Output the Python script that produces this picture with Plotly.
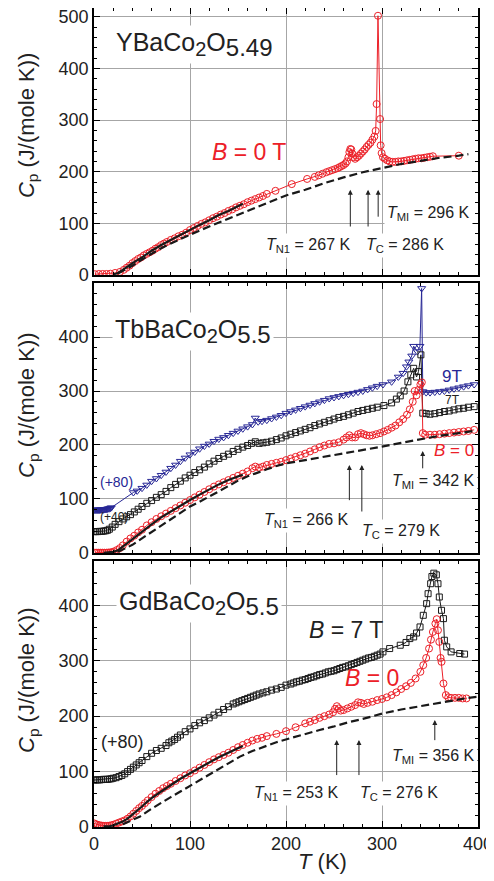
import plotly.graph_objects as go

# ---------------- Panel 1: YBaCo2O5.49 ----------------
p1_T_b0 = [1, 5, 9, 13, 17, 22, 27, 31, 34, 37, 40, 43, 46, 49, 52, 55, 58, 61, 64, 67, 70, 73, 76, 80, 84, 88, 92, 96, 100,
           104, 108, 112, 116, 120, 124, 128, 132, 136, 140, 144, 148, 152, 156, 160, 164, 168, 172, 176, 180, 189,
           206, 222, 230, 234, 238, 242, 245, 248, 251, 254, 256, 258, 260, 262, 263.5, 265, 266, 267, 268, 269, 270,
           272, 274, 276, 278, 280, 282, 284, 286, 288, 290, 292, 293.4, 294.4, 295.8, 298, 298.6, 299.6, 301, 303,
           305.5, 308, 311, 314, 317, 320, 323, 326, 329, 332, 335, 338, 341, 344, 347, 350, 353, 380]
p1_Cp_b0 = [1.5, 2, 2, 2, 2.5, 4, 6, 10, 14, 18, 23, 27, 31, 34, 38, 41, 44, 47, 51, 54, 58, 61, 64, 68, 71, 75, 78, 82, 87,
            91, 95, 99, 102, 106, 110, 113, 117, 120, 124, 127, 131, 134, 137, 141, 144, 147, 150, 153, 157, 163,
            176, 186, 190, 193, 196, 199, 201, 203, 205, 207, 209, 211, 213, 216, 220, 228, 238, 244, 243, 235, 228,
            225, 228, 231, 235, 239, 243, 248, 252, 256, 262, 268, 279, 331, 502, 302, 251, 236, 228, 225,
            222, 220, 219, 219, 220, 220, 221, 222, 223, 224, 225, 226, 226, 227, 228, 229, 230, 231]
p1_T_fit = [20, 25, 30, 40, 50, 60, 70, 80, 90, 100, 110, 120, 130, 140, 150, 155]
p1_Cp_fit = [1, 4, 10, 23, 34, 47, 58, 68, 78, 87, 97, 106, 116, 124, 133, 138]
p1_T_lat = [25, 30, 40, 50, 60, 70, 80, 90, 100, 120, 140, 160, 180, 200, 220, 240, 260, 280, 300, 320, 340, 360, 380, 390]
p1_Cp_lat = [3, 8, 18, 30, 41, 52, 61, 70, 78, 94, 109, 125, 140, 154, 165, 178, 189, 199, 207, 215, 221, 227, 231, 234]

# ---------------- Panel 2: TbBaCo2O5.5 ----------------
p2_T_b0 = [1, 3, 5, 7, 9, 11, 13, 15, 17, 19, 21, 24, 27, 30, 34, 38, 42, 46, 50, 55, 60, 65, 70, 75, 80, 85, 90, 95, 100,
           105, 110, 115, 120, 125, 130, 135, 140, 145, 150, 155, 160, 165, 168, 172, 176, 180, 185, 190, 195, 200,
           205, 210, 215, 220, 225, 230, 235, 240, 245, 250, 255, 260, 263, 266, 269, 272, 275, 278, 281, 284, 287,
           290, 294, 298, 302, 306, 310, 314, 318, 322, 326, 329, 332, 334, 336, 338, 340, 341.5, 342.5, 345, 350,
           355, 360, 365, 370, 375, 380, 385, 390, 396]
p2_Cp_b0 = [0.5, 0.5, 0.5, 0.5, 0.5, 0.5, 0.5, 0.8, 1, 1.5, 3, 5.5, 9, 14, 21, 27, 32, 38, 43, 51, 57, 63, 68, 73, 78, 83,
            88, 93, 98, 103, 108, 113, 118, 123, 127, 131, 135, 139, 143, 147, 151, 157, 160, 158, 160, 163, 165, 167,
            169, 172, 175, 178, 181, 184, 188, 192, 196, 199, 202, 203, 205, 210, 214, 218, 214, 214, 220, 222, 220,
            218, 217, 218, 220, 222, 225, 228, 232, 236, 242, 248, 256, 266, 280, 300, 292, 302, 312, 316, 222, 219,
            219, 219, 220, 221, 222, 223, 224, 225, 226, 228]
p2_T_7T = [0, 2, 4, 6, 8, 10, 12, 14, 16, 19, 22, 26, 30, 34, 38, 42, 46, 50, 55, 60, 65, 70, 75, 80, 85, 90, 95, 100,
           105, 110, 115, 120, 125, 130, 135, 140, 145, 150, 155, 160, 164, 168, 172, 176, 180, 185, 190, 195, 200, 205,
           210, 215, 220, 225, 230, 235, 240, 245, 250, 255, 260, 265, 270, 275, 280, 285, 290, 295, 302, 310, 315, 319,
           323, 327, 330, 333, 336, 338, 340.5, 342.5, 346, 350, 355, 360, 365, 370, 375, 380, 385, 390, 396]
p2_Cp_7T = [39.5, 39.5, 39.5, 40, 40, 40.5, 41, 42, 44, 48, 53, 58, 63, 67, 71, 76, 81, 86, 92, 97, 103, 108, 114, 121,
            127, 133, 139, 144, 149, 154, 159, 165, 170, 175, 179, 183, 188, 192, 196, 199, 203, 206, 203, 204, 205, 207,
            210, 213, 217, 220, 223, 226, 229, 232, 236, 239, 242, 245, 248, 251, 253, 256, 259, 262, 264, 266, 268,
            270, 273, 278, 285, 291, 300, 317, 330, 342, 326, 336, 367, 259, 258, 257, 258, 260, 262, 263, 265, 267,
            268, 270, 271]
p2_T_9T = [0, 1, 2, 3, 4, 5, 6, 7, 8, 9, 10, 11, 12, 13, 14, 15, 16, 17, 18, 41, 45, 50, 55, 60, 65, 70, 75, 80, 85, 90,
           95, 100, 105, 110, 115, 120, 125, 130, 135, 140, 145, 150, 155, 160, 165, 168, 171, 175, 180, 185, 190, 195,
           200, 205, 210, 215, 220, 225, 230, 235, 240, 245, 250, 255, 260, 265, 270, 275, 280, 285, 290, 295, 301,
           310, 317, 322, 325.5, 328, 331, 333, 336.8, 339.5, 341.3, 342.5, 346, 350, 355, 360, 365, 370, 375, 380,
           385, 390, 396]
p2_Cp_9T = [79.6, 79.6, 79.6, 79.6, 79.6, 79.6, 79.6, 80, 80, 80, 80, 80.5, 81, 81, 81.5, 82, 82, 83, 84, 112, 115, 120,
            126, 133, 138, 144, 150, 157, 163, 170, 176, 182, 187, 193, 198, 202, 207, 211, 214, 218, 222, 226, 230,
            234, 238, 250, 243, 244, 246, 249, 252, 255, 259, 262, 265, 268, 271, 274, 277, 280, 283, 286, 288, 290,
            292, 294, 296, 298, 300, 303, 306, 309, 312, 317, 326, 333, 345, 354, 365, 383, 373, 383, 490, 299, 297,
            297, 298, 299, 300, 302, 304, 306, 308, 310, 312]
p2_T_fit = [10, 20, 25, 30, 35, 40, 50, 60, 70, 80, 90, 100, 110, 120, 130, 140, 150, 155]
p2_Cp_fit = [0, 2, 5, 12, 19, 26, 40, 53, 66, 77, 88, 98, 108, 118, 127, 135, 142, 145]
p2_T_lat = [25, 30, 40, 50, 60, 70, 80, 90, 100, 110, 120, 130, 140, 150, 160, 170, 180, 190, 200, 220, 240, 260, 280,
            300, 320, 340, 360, 380, 396]
p2_Cp_lat = [2, 6, 15, 27, 39, 51, 63, 75, 86, 95, 104, 114, 124, 134, 142, 149, 155, 161, 166, 172, 178, 184, 190,
             197, 204, 211, 217, 222, 226]

# ---------------- Panel 3: GdBaCo2O5.5 ----------------
p3_T_b0 = [0, 2, 4, 6, 8, 10, 12, 14, 16, 18, 20, 23, 26, 29, 32, 35, 38, 41, 44, 47, 50, 53, 56, 60, 64, 68, 72, 76, 80,
           85, 90, 95, 100, 105, 110, 115, 120, 125, 130, 135, 140, 145, 150, 155, 160, 165, 170, 175, 180, 190, 200,
           210, 220, 225, 230, 235, 240, 245, 249, 251, 253, 255, 257, 260, 264, 268, 272, 275, 278, 281, 285, 290,
           295, 300, 305, 310, 315, 320, 325, 330, 335, 340, 343, 346, 349, 351, 353, 355.6, 357, 358.3, 359.7, 361,
           362, 364, 366.5, 369, 372, 376, 380, 384, 388]
p3_Cp_b0 = [6.6, 5, 4, 3, 2.5, 2, 2, 2, 2.4, 3, 4, 6, 8, 10, 12, 15, 19, 24, 29, 34, 38, 43, 48, 54, 60, 65, 70, 74, 78,
            83, 88, 93, 97, 102, 107, 112, 117, 122, 126, 130, 134, 139, 144, 148, 152, 156, 159, 161, 164, 168, 173,
            180, 187, 190, 193, 197, 200, 203, 207, 213, 218, 214, 210, 211, 214, 217, 220, 225, 224, 222, 224, 226,
            229, 231, 234, 238, 243, 249, 254, 260, 268, 280, 292, 305, 322, 338, 352, 367, 375, 355, 334, 305, 298,
            259, 238, 234, 233, 233, 233, 232, 232]
p3_T_7T = [0, 2, 4, 6, 8, 10, 12, 14, 16, 18, 20, 23, 26, 29, 32, 35, 38, 41, 44, 47, 50, 55, 60, 65, 70, 75, 78, 81, 84,
           87, 90, 95, 100, 105, 110, 115, 120, 125, 130, 135, 140, 145, 148, 151, 154, 157, 160, 163, 166, 169, 172,
           176, 180, 185, 190, 195, 200, 205, 208, 211, 214, 217, 220, 223, 226, 229, 232, 235, 238, 241, 244, 247,
           250, 253, 256, 259, 262, 265, 268, 271, 274, 277, 280, 283, 286, 289, 292, 295, 298, 301, 308, 319, 325,
           329, 333, 336, 339.6, 343, 346.5, 348, 350.7, 352, 354, 356.6, 358.3, 359.7, 362, 364, 365, 367.4, 372,
           381, 386]
p3_Cp_7T = [84.7, 85, 85, 85, 85.5, 86, 86, 86, 86.5, 87, 88, 89, 91, 93, 96, 100, 104, 108, 112, 116, 120, 127, 133,
            138, 142, 147, 152, 155, 158, 162, 166, 172, 177, 183, 188, 192, 197, 202, 207, 212, 217, 222, 224, 226,
            228, 230, 232, 234, 236, 238, 240, 242, 244, 247, 249, 252, 256, 258, 260, 262, 263, 265, 266, 268, 270,
            271, 273, 275, 276, 278, 280, 281, 282, 284, 286, 288, 289, 291, 293, 295, 297, 299, 301, 303, 305, 306,
            308, 310, 312, 316, 322, 328, 333, 340, 343, 350, 361, 382, 403, 421, 439, 452, 458, 455, 439, 415, 391,
            376, 337, 325, 316, 313, 312]
p3_T_fit = [10, 15, 20, 25, 30, 35, 40, 45, 50, 55, 60, 70, 80, 90, 100, 110, 120, 130, 140, 150, 155]
p3_Cp_fit = [1, 1, 3, 6, 10, 15, 22, 29, 37, 45, 52, 64, 76, 87, 97, 107, 117, 126, 134, 142, 146]
p3_T_lat = [30, 40, 48, 60, 70, 80, 90, 99, 110, 120, 130, 140, 152, 165, 180, 190, 204, 220, 235, 249, 265, 280, 301,
            320, 340, 353, 370, 390, 400]
p3_Cp_lat = [5, 12, 19, 33, 44, 54, 64, 73, 84, 94, 104, 114, 127, 137, 147, 153, 160, 168, 175, 181, 189, 195, 205,
             212, 218, 223, 228, 233, 235]

RED = "rgb(236,32,40)"
BLUE = "rgb(40,40,150)"
BLK = "rgb(25,25,25)"
FONT = "Liberation Sans, Arial, sans-serif"

fig = go.Figure()


def data(x, y, color, symbol, size, ax, name):
    fig.add_trace(go.Scatter(x=x, y=y, mode="lines+markers", name=name,
                             line=dict(color=color, width=1),
                             marker=dict(symbol=symbol, size=size, color=color,
                                         line=dict(color=color, width=1)),
                             xaxis="x" + ax, yaxis="y" + ax, showlegend=False))


def fitline(x, y, ax, dash):
    fig.add_trace(go.Scatter(x=x, y=y, mode="lines",
                             line=dict(color=BLK, width=2.2, dash=dash),
                             xaxis="x" + ax, yaxis="y" + ax, showlegend=False))


# panel 1
data(p1_T_b0, p1_Cp_b0, RED, "circle-open", 7, "", "B=0")
fitline(p1_T_fit, p1_Cp_fit, "", "solid")
fitline(p1_T_lat, p1_Cp_lat, "", "8px,4px")
# panel 2
data(p2_T_9T, p2_Cp_9T, BLUE, "triangle-down-open", 7, "2", "9T")
data(p2_T_7T, p2_Cp_7T, BLK, "square-open", 6, "2", "7T")
data(p2_T_b0, p2_Cp_b0, RED, "circle-open", 7, "2", "B=0")
fitline(p2_T_fit, p2_Cp_fit, "2", "solid")
fitline(p2_T_lat, p2_Cp_lat, "2", "8px,4px")
# panel 3
data(p3_T_7T, p3_Cp_7T, BLK, "square-open", 6, "3", "7T")
data(p3_T_b0, p3_Cp_b0, RED, "circle-open", 7, "3", "B=0")
fitline(p3_T_fit, p3_Cp_fit, "3", "solid")
fitline(p3_T_lat, p3_Cp_lat, "3", "8px,4px")

axis_common = dict(showline=True, linecolor="black", linewidth=1.5, mirror="allticks",
                   ticks="inside", ticklen=6, tickwidth=1, tickcolor="black", automargin=False,
                   ticklabeloverflow="allow",
                   showgrid=True, gridcolor="#a6a6a6", gridwidth=1, zeroline=False,
                   tickfont=dict(family=FONT, size=18, color="#222"),
                   minor=dict(dtick=20, tick0=0, ticks="inside", ticklen=3, tickcolor="black", showgrid=False))

xcommon = dict(axis_common, range=[0, 400], dtick=100, tick0=0)
# the page body adds an 8px offset, so the figure is sized to fit the 494x881 window
fig.update_layout(
    width=486, height=873,
    margin=dict(l=86, r=16, t=0, b=54, autoexpand=False),
    paper_bgcolor="white", plot_bgcolor="white",
    font=dict(family=FONT, color="#222"),
    xaxis=dict(xcommon, anchor="y", showticklabels=False),
    xaxis2=dict(xcommon, anchor="y2", showticklabels=False),
    xaxis3=dict(xcommon, anchor="y3", showticklabels=True),
    yaxis=dict(axis_common, domain=[0.674, 1.0], range=[0, 517], tickvals=[0, 100, 200, 300, 400, 500], anchor="x"),
    yaxis2=dict(axis_common, domain=[0.3346, 0.6642], range=[0, 500], tickvals=[0, 100, 200, 300, 400], anchor="x2"),
    yaxis3=dict(axis_common, domain=[0.0, 0.3248], range=[0, 480], tickvals=[0, 100, 200, 300, 400], anchor="x3"),
)

ann = []


def label(text, x, y, ax, size, color="#222", xanchor="left", bg=None):
    d = dict(text=text, x=x, y=y, xref="x" + ax, yref="y" + ax, showarrow=False,
             xanchor=xanchor, yanchor="middle", font=dict(family=FONT, size=size, color=color))
    if bg:
        d.update(bgcolor=bg, borderpad=2)
    ann.append(d)


def arrow(x, y0, y1, ax):
    ann.append(dict(text="", x=x, y=y1, ax=x, ay=y0, xref="x" + ax, yref="y" + ax,
                    axref="x" + ax, ayref="y" + ax, showarrow=True, arrowhead=2,
                    arrowsize=1, arrowwidth=1, arrowcolor="#222"))


def Tlab(sub, val):
    return "<i>T</i><sub>%s</sub> = %s K" % (sub, val)


def formula(a, b):
    return (a + "<sub><span style='font-size:20px'>2</span></sub>O<sub><span style='font-size:24px'>"
            + b + "</span></sub>")


# panel 1 texts
label(formula("YBaCo", "5.49"), 20, 446, "", 25, bg="white")
label("<i>B</i> = 0 T", 161.5, 238, "", 23, color=RED, xanchor="center")
label(Tlab("MI", "296"), 395, 120, "", 16, xanchor="right", bg="white")
label(Tlab("N1", "267"), 176, 58, "", 16, bg="white")
label(Tlab("C", "286"), 280, 58, "", 16, bg="white")
arrow(267, 91, 165, "")
arrow(285.5, 91, 165, "")
arrow(296, 110, 165, "")

# panel 2 texts
label(formula("TbBaCo", "5.5"), 19, 411, "2", 25, bg="white")
label("9T", 373, 326, "2", 17, color=BLUE, xanchor="center")
label("7T", 373, 283, "2", 12, color="#222", xanchor="center")
label("<i>B</i> = 0", 375, 189, "2", 17, color=RED, xanchor="center")
label("(+80)", 23.5, 132, "2", 14, color=BLUE, xanchor="center")
label("(+40)", 21, 67, "2", 12, color="#222", xanchor="center")
label(Tlab("MI", "342"), 400, 132, "2", 16, xanchor="right", bg="white")
label(Tlab("N1", "266"), 174, 61, "2", 16, bg="white")
label(Tlab("C", "279"), 276, 39, "2", 16, bg="white")
arrow(266, 95, 163, "2")
arrow(279, 74, 163, "2")
arrow(342.4, 154, 189, "2")

# panel 3 texts
label(formula("GdBaCo", "5.5"), 23, 404, "3", 25, bg="white")
label("<i>B</i> = 7 T", 263, 355, "3", 23, xanchor="center")
label("<i>B</i> = 0", 290, 268, "3", 23, color=RED, xanchor="center")
label("(+80)", 30, 154, "3", 18, xanchor="center")
label(Tlab("MI", "356"), 400, 127, "3", 16, xanchor="right", bg="white")
label(Tlab("N1", "253"), 164, 61, "3", 16, bg="white")
label(Tlab("C", "276"), 274, 61, "3", 16, bg="white")
arrow(252.8, 91, 157, "3")
arrow(276, 91, 157, "3")
arrow(355, 154, 193, "3")

# axis titles
ytitle = "<i>C</i><sub>p</sub> (J/(mole K))"
for yc in [0.857, 0.5153, 0.1795]:
    ann.append(dict(text=ytitle, x=-0.172, y=yc, xref="paper", yref="paper", showarrow=False,
                    textangle=-90, xanchor="center", yanchor="middle",
                    font=dict(family=FONT, size=22, color="#222")))
ann.append(dict(text="<i>T</i> (K)", x=0.594, y=-0.0427, xref="paper", yref="paper", showarrow=False,
                xanchor="center", yanchor="middle", font=dict(family=FONT, size=22, color="#222")))

fig.update_layout(annotations=ann)
fig.write_html("out.html")
